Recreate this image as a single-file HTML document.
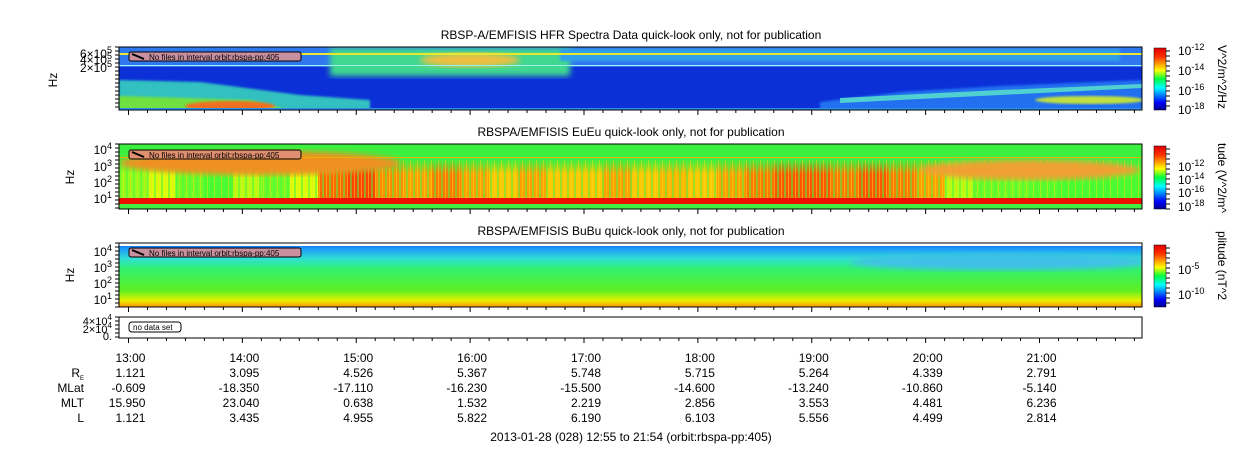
<!DOCTYPE html>
<html><head><meta charset="utf-8">
<style>
html,body{margin:0;padding:0;background:#fff;}
svg{display:block;font-family:"Liberation Sans",sans-serif;}
text{fill:#000;}
</style></head>
<body>
<svg id="chart" width="1250" height="449" viewBox="0 0 1250 449">
<defs>
 <linearGradient id="jetV" x1="0" y1="1" x2="0" y2="0">
  <stop offset="0" stop-color="#00008f"/><stop offset="0.12" stop-color="#0000ff"/>
  <stop offset="0.36" stop-color="#00ffff"/><stop offset="0.5" stop-color="#00ff40"/>
  <stop offset="0.64" stop-color="#ffff00"/><stop offset="0.86" stop-color="#ff3000"/>
  <stop offset="1" stop-color="#e00000"/>
 </linearGradient>
 <linearGradient id="bu" x1="0" y1="0" x2="0" y2="1">
  <stop offset="0" stop-color="#1060f0"/><stop offset="0.1" stop-color="#20a0f8"/>
  <stop offset="0.25" stop-color="#30e0d0"/><stop offset="0.4" stop-color="#30f070"/>
  <stop offset="0.75" stop-color="#60f020"/><stop offset="0.9" stop-color="#e8f000"/>
  <stop offset="1" stop-color="#ff9000"/>
 </linearGradient>
 <linearGradient id="fadeUp" x1="0" y1="0" x2="0" y2="1">
  <stop offset="0" stop-color="#fff" stop-opacity="0"/><stop offset="0.35" stop-color="#fff" stop-opacity="1"/>
  <stop offset="1" stop-color="#fff" stop-opacity="1"/>
 </linearGradient>
 <mask id="euMask"><rect x="119" y="160" width="1023" height="40" fill="url(#fadeUp)"/></mask>
 <pattern id="streaks" width="7" height="40" patternUnits="userSpaceOnUse">
  <rect x="0" y="0" width="2" height="40" fill="#50f040" opacity="0.55"/>
  <rect x="4" y="0" width="1" height="40" fill="#f0e020" opacity="0.5"/>
 </pattern>
 <filter id="blur3"><feGaussianBlur stdDeviation="3"/></filter>
 <filter id="blur1"><feGaussianBlur stdDeviation="1"/></filter>
 <clipPath id="c1"><rect x="119" y="47" width="1023" height="63"/></clipPath>
 <clipPath id="c2"><rect x="119" y="144" width="1023" height="65"/></clipPath>
 <clipPath id="c3"><rect x="119" y="243" width="1023" height="64"/></clipPath>
</defs>

<text x="631" y="39" font-size="12" text-anchor="middle">RBSP-A/EMFISIS  HFR Spectra Data quick-look only, not for publication</text>
<text x="631" y="136" font-size="12" text-anchor="middle">RBSPA/EMFISIS  EuEu quick-look only, not for publication</text>
<text x="631" y="235" font-size="12" text-anchor="middle">RBSPA/EMFISIS  BuBu quick-look only, not for publication</text>

<g clip-path="url(#c1)">
 <rect x="119" y="47" width="1023" height="63" fill="#0c30d8"/>
 <rect x="119" y="47" width="1023" height="20" fill="#2f78f0"/>
 <rect x="330" y="48" width="240" height="28" fill="#40d890" filter="url(#blur3)"/>
 <ellipse cx="470" cy="60" rx="50" ry="7" fill="#f0c040" filter="url(#blur3)"/>
 <rect x="560" y="49" width="560" height="12" fill="#30a0e8" filter="url(#blur1)"/>
 <rect x="119" y="53" width="1023" height="2" fill="#e8e830"/>
 <rect x="119" y="65" width="1023" height="1" fill="#a0f0f0"/>
 <polygon points="119,80 200,82 300,95 370,100 370,110 119,110" fill="#30c0c0" filter="url(#blur1)"/>
 <polygon points="119,96 250,100 290,110 119,110" fill="#70e040" filter="url(#blur1)"/>
 <ellipse cx="230" cy="106" rx="45" ry="5" fill="#f07020" filter="url(#blur1)"/>
 <polygon points="820,102 900,92 1000,86 1142,80 1142,110 820,110" fill="#2070f0" filter="url(#blur1)"/>
 <polygon points="840,98 1000,90 1142,84 1142,88 1000,95 840,103" fill="#50d0d0"/>
 <ellipse cx="1090" cy="100" rx="55" ry="4" fill="#c0e040" filter="url(#blur1)"/>
 <rect x="119" y="108" width="1023" height="2" fill="#3090f0"/>
</g>
<rect x="119" y="47" width="1023" height="63" fill="none" stroke="#000"/>

<g clip-path="url(#c2)">
 <rect x="119" y="144" width="1023" height="65" fill="#3cf040"/>
 <g id="euStreaks" mask="url(#euMask)"></g>
 <rect x="119" y="160" width="1023" height="38" fill="url(#streaks)"/>
 <ellipse cx="260" cy="163" rx="140" ry="12" fill="#f09020" filter="url(#blur3)"/>
 <ellipse cx="1030" cy="170" rx="110" ry="10" fill="#f0a030" filter="url(#blur3)"/>
 <rect x="119" y="157" width="1023" height="1" fill="#f0b000"/>
 <rect x="119" y="198" width="1023" height="6" fill="#f01000"/>
 <rect x="119" y="204" width="1023" height="5" fill="#40f040"/>
</g>
<rect x="119" y="144" width="1023" height="65" fill="none" stroke="#000"/>

<g clip-path="url(#c3)">
 <rect x="119" y="243" width="1023" height="64" fill="url(#bu)"/>
 <ellipse cx="1000" cy="262" rx="150" ry="8" fill="#40c0e8" filter="url(#blur3)"/>
 <rect x="119" y="243" width="1023" height="3" fill="#fff"/>
</g>
<rect x="119" y="243" width="1023" height="64" fill="none" stroke="#000"/>

<rect x="119" y="317" width="1023" height="21" fill="#fff" stroke="#000"/>
<rect x="129" y="322" width="52" height="10" rx="3" fill="#fff" stroke="#000"/>
<text x="133" y="330" font-size="8">no data set</text>

<g>
 <rect x="129" y="52" width="172" height="9" rx="2" fill="#c890a0" stroke="#000"/>
 <line x1="132" y1="54" x2="144" y2="59" stroke="#000" stroke-width="2"/>
 <text x="149" y="60" font-size="8">No files in interval orbit:rbspa-pp:405</text>
</g>
<g>
 <rect x="129" y="150" width="172" height="9" rx="2" fill="#e09070" stroke="#000"/>
 <line x1="132" y1="152" x2="144" y2="157" stroke="#000" stroke-width="2"/>
 <text x="149" y="158" font-size="8">No files in interval orbit:rbspa-pp:405</text>
</g>
<g>
 <rect x="129" y="248" width="172" height="9" rx="2" fill="#c890a0" stroke="#000"/>
 <line x1="132" y1="250" x2="144" y2="255" stroke="#000" stroke-width="2"/>
 <text x="149" y="256" font-size="8">No files in interval orbit:rbspa-pp:405</text>
</g>

<text transform="translate(57,80) rotate(-90)" font-size="12" text-anchor="middle">Hz</text>
<text transform="translate(74,177) rotate(-90)" font-size="12" text-anchor="middle">Hz</text>
<text transform="translate(74,275) rotate(-90)" font-size="12" text-anchor="middle">Hz</text>
<g font-size="12" text-anchor="end">
 <text x="112" y="58">6×10<tspan font-size="9" dy="-5">5</tspan></text>
 <text x="112" y="64">4×10<tspan font-size="9" dy="-5">5</tspan></text>
 <text x="112" y="72">2×10<tspan font-size="9" dy="-5">5</tspan></text>
</g>
<g font-size="12" text-anchor="end">
 <text x="112" y="154">10<tspan font-size="9" dy="-5">4</tspan></text>
 <text x="112" y="171">10<tspan font-size="9" dy="-5">3</tspan></text>
 <text x="112" y="187">10<tspan font-size="9" dy="-5">2</tspan></text>
 <text x="112" y="203">10<tspan font-size="9" dy="-5">1</tspan></text>
</g>
<g font-size="12" text-anchor="end">
 <text x="112" y="256">10<tspan font-size="9" dy="-5">4</tspan></text>
 <text x="112" y="272">10<tspan font-size="9" dy="-5">3</tspan></text>
 <text x="112" y="288">10<tspan font-size="9" dy="-5">2</tspan></text>
 <text x="112" y="304">10<tspan font-size="9" dy="-5">1</tspan></text>
</g>
<g font-size="11" text-anchor="end">
 <text x="112" y="325">4×10<tspan font-size="8" dy="-5">4</tspan></text>
 <text x="112" y="333">2×10<tspan font-size="8" dy="-5">4</tspan></text>
 <text x="112" y="340">0.</text>
</g>
<g id="yTicks" stroke="#000"></g>
<g id="xTicks" stroke="#000"></g>

<rect x="1154" y="48" width="12" height="62" fill="url(#jetV)" stroke="#000" stroke-width="0.5"/>
<rect x="1154" y="146" width="12" height="63" fill="url(#jetV)" stroke="#000" stroke-width="0.5"/>
<rect x="1154" y="245" width="12" height="62" fill="url(#jetV)" stroke="#000" stroke-width="0.5"/>
<g font-size="12">
 <text x="1178" y="55">10<tspan font-size="9" dy="-5">-12</tspan></text>
 <text x="1178" y="75">10<tspan font-size="9" dy="-5">-14</tspan></text>
 <text x="1178" y="95">10<tspan font-size="9" dy="-5">-16</tspan></text>
 <text x="1178" y="114">10<tspan font-size="9" dy="-5">-18</tspan></text>
</g>
<g font-size="12">
 <text x="1178" y="171">10<tspan font-size="9" dy="-5">-12</tspan></text>
 <text x="1178" y="184">10<tspan font-size="9" dy="-5">-14</tspan></text>
 <text x="1178" y="197">10<tspan font-size="9" dy="-5">-16</tspan></text>
 <text x="1178" y="211">10<tspan font-size="9" dy="-5">-18</tspan></text>
</g>
<g font-size="12">
 <text x="1178" y="274">10<tspan font-size="9" dy="-5">-5</tspan></text>
 <text x="1178" y="299">10<tspan font-size="9" dy="-5">-10</tspan></text>
</g>
<g id="cbTicks" stroke="#000"></g>
<text transform="translate(1218,45) rotate(90)" font-size="12">V^2/m^2/Hz</text>
<text transform="translate(1218,143) rotate(90)" font-size="12">tude (V^2/m^</text>
<text transform="translate(1218,231) rotate(90)" font-size="12">plitude (nT^2</text>

<g id="eph" font-size="12"></g>
<text x="631" y="441" font-size="12" text-anchor="middle">2013-01-28 (028) 12:55 to 21:54 (orbit:rbspa-pp:405)</text>
</svg>

<script>
const hourLabels = ["13:00","14:00","15:00","16:00","17:00","18:00","19:00","20:00","21:00"];
const rE   = ["1.121","3.095","4.526","5.367","5.748","5.715","5.264","4.339","2.791"];
const mLat = ["-0.609","-18.350","-17.110","-16.230","-15.500","-14.600","-13.240","-10.860","-5.140"];
const mlt  = ["15.950","23.040","0.638","1.532","2.219","2.856","3.553","4.481","6.236"];
const lVal = ["1.121","3.435","4.955","5.822","6.190","6.103","5.556","4.499","2.814"];
// EuEu low-frequency intensity per 15-min bin (0..1), starting 12:55
const euLow = [0.58,0.62,0.56,0.54,0.6,0.56,0.62,0.8,0.84,0.76,0.74,0.78,0.74,0.7,0.74,0.7,0.7,0.74,0.7,0.72,0.7,0.74,0.78,0.82,0.82,0.78,0.82,0.78,0.74,0.6,0.56,0.56,0.55,0.54,0.54,0.54];

const NS="http://www.w3.org/2000/svg";
const x0=119, x1=1142, tStart=12*60+55, tEnd=21*60+54;
function xScale(min){return x0+(min-tStart)/(tEnd-tStart)*(x1-x0);}
function mk(tag,attrs,parent){const e=document.createElementNS(NS,tag);for(const k in attrs)e.setAttribute(k,attrs[k]);parent.appendChild(e);return e;}
function jet(v){const s=[[0,[0,0,143]],[0.12,[0,0,255]],[0.36,[0,255,255]],[0.5,[0,255,64]],[0.64,[255,255,0]],[0.86,[255,48,0]],[1,[224,0,0]]];
 for(let i=1;i<s.length;i++){if(v<=s[i][0]){const a=s[i-1],b=s[i],f=(v-a[0])/(b[0]-a[0]);return "rgb("+a[1].map((c,j)=>Math.round(c+(b[1][j]-c)*f)).join(",")+")";}}return "rgb(224,0,0)";}

const eu=document.getElementById('euStreaks');
euLow.forEach((v,i)=>{
 const xa=xScale(tStart+i*15), xb=xScale(tStart+(i+1)*15);
 const r=mk('rect',{x:xa,y:160,width:xb-xa+0.5,height:38,fill:jet(v)},eu);
 
 
});

const xt=document.getElementById('xTicks');
const panels=[[47,110],[144,209],[243,307],[317,338]];
for(let m=13*60;m<=21*60+50;m+=10){
 const x=xScale(m), major=(m%60===0), len=major?5:3;
 panels.forEach(p=>{mk('line',{x1:x,y1:p[1],x2:x,y2:p[1]+len},xt);});
}
const yt=document.getElementById('yTicks');
panels.forEach(p=>{for(let y=p[0];y<=p[1];y+=4){mk('line',{x1:115,y1:y,x2:119,y2:y},yt);}});
const cb=document.getElementById('cbTicks');
[[48,110],[146,209],[245,307]].forEach(p=>{for(let y=p[0]+3;y<=p[1];y+=5){mk('line',{x1:1166,y1:y,x2:1170,y2:y},cb);}});

const eph=document.getElementById('eph');
const rowY=[362,377,392,407,422];
const rowNames=["","R","MLat","MLT","L"];
rowNames.forEach((n,i)=>{ if(!n)return;
 const t=mk('text',{x:84,y:rowY[i],'text-anchor':'end'},eph);t.textContent=n;
 
 
 if(n==="R"){const s=mk('tspan',{'font-size':'6',dy:'3'},t);s.textContent="E";}
});
const rows=[hourLabels,rE,mLat,mlt,lVal];
hourLabels.forEach((h,i)=>{
 const x=xScale(13*60+i*60);
 rows.forEach((r,j)=>{
  const t=mk('text',{x:x+17,y:rowY[j],'text-anchor':'end'},eph);
  t.textContent=r[i];
  
  
 });
});
</script>
</body></html>
